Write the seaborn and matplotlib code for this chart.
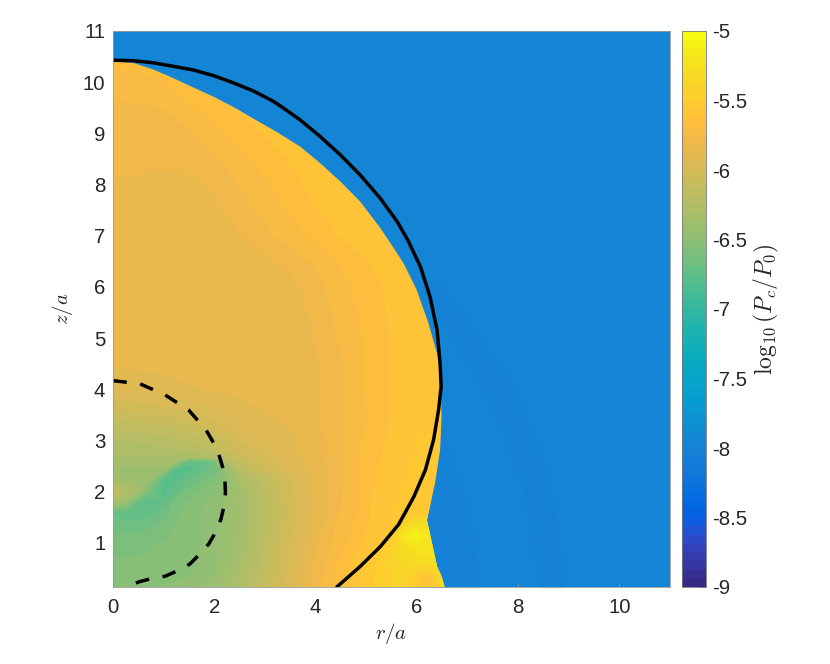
import numpy as np
import matplotlib
matplotlib.use("Agg")
import matplotlib.pyplot as plt
import seaborn as sns
from matplotlib.cm import ScalarMappable
from matplotlib.colors import ListedColormap, Normalize
from matplotlib.patches import Polygon

# Style
sns.set_theme(style="white")
plt.rcParams['font.family'] = ['Liberation Sans', 'DejaVu Sans']
plt.rcParams['mathtext.fontset'] = 'cm'

# matlab parula, 64 rows
parula_rows = [
    [0.2081,0.1663,0.5292],[0.2116,0.1898,0.5777],[0.2123,0.2138,0.6270],[0.2081,0.2386,0.6771],
    [0.1959,0.2645,0.7279],[0.1707,0.2919,0.7792],[0.1253,0.3242,0.8303],[0.0591,0.3598,0.8683],
    [0.0117,0.3875,0.8820],[0.0060,0.4086,0.8828],[0.0165,0.4266,0.8786],[0.0329,0.4430,0.8720],
    [0.0498,0.4586,0.8641],[0.0629,0.4737,0.8554],[0.0723,0.4887,0.8467],[0.0779,0.5040,0.8384],
    [0.0793,0.5200,0.8312],[0.0749,0.5375,0.8263],[0.0641,0.5570,0.8240],[0.0488,0.5772,0.8228],
    [0.0343,0.5966,0.8199],[0.0265,0.6137,0.8135],[0.0239,0.6287,0.8038],[0.0231,0.6418,0.7913],
    [0.0228,0.6535,0.7768],[0.0267,0.6642,0.7607],[0.0384,0.6743,0.7436],[0.0590,0.6838,0.7254],
    [0.0843,0.6928,0.7062],[0.1133,0.7015,0.6859],[0.1453,0.7098,0.6646],[0.1801,0.7177,0.6424],
    [0.2178,0.7250,0.6193],[0.2586,0.7317,0.5954],[0.3022,0.7376,0.5712],[0.3482,0.7424,0.5473],
    [0.3953,0.7459,0.5244],[0.4420,0.7481,0.5033],[0.4871,0.7491,0.4840],[0.5300,0.7491,0.4661],
    [0.5709,0.7485,0.4494],[0.6099,0.7473,0.4337],[0.6473,0.7456,0.4188],[0.6834,0.7435,0.4044],
    [0.7184,0.7411,0.3905],[0.7525,0.7384,0.3768],[0.7858,0.7356,0.3633],[0.8185,0.7327,0.3498],
    [0.8507,0.7299,0.3360],[0.8824,0.7274,0.3217],[0.9139,0.7258,0.3063],[0.9450,0.7261,0.2886],
    [0.9739,0.7314,0.2666],[0.9938,0.7455,0.2403],[0.9990,0.7653,0.2164],[0.9955,0.7861,0.1967],
    [0.9880,0.8066,0.1794],[0.9789,0.8271,0.1633],[0.9697,0.8481,0.1475],[0.9626,0.8705,0.1309],
    [0.9589,0.8949,0.1132],[0.9598,0.9218,0.0948],[0.9661,0.9514,0.0755],[0.9763,0.9831,0.0538],
]

# log10(Pc/P0), one row per z_rows entry, one column per r_cols entry
r_cols = [0, 0.5, 1, 1.5, 2, 2.5, 3, 3.5, 4, 4.5, 5, 5.5, 6, 6.5, 7]
z_rows = [0.14, 0.5, 1, 1.25, 1.5, 1.75, 2, 2.25, 2.5, 2.75, 3, 3.5, 4, 4.5, 5, 6, 6.5, 7, 7.5, 8, 8.5, 9, 9.5, 10, 10.5, 11]
bubble_values = [
    [-6.50,-6.50,-6.50,-6.48,-6.40,-6.28,-6.12,-5.96,-5.78,-5.66,-5.54,-5.44,-5.50,-5.35,-5.35],
    [-6.55,-6.55,-6.55,-6.52,-6.46,-6.32,-6.15,-5.98,-5.80,-5.67,-5.56,-5.42,-5.40,-5.25,-5.25],
    [-6.58,-6.58,-6.56,-6.54,-6.46,-6.36,-6.18,-6.00,-5.83,-5.70,-5.60,-5.50,-5.22,-5.22,-5.22],
    [-6.66,-6.65,-6.60,-6.54,-6.46,-6.36,-6.20,-6.02,-5.85,-5.72,-5.62,-5.54,-5.10,-5.24,-5.24],
    [-6.70,-6.74,-6.66,-6.54,-6.46,-6.36,-6.20,-6.03,-5.87,-5.74,-5.64,-5.57,-5.50,-5.50,-5.50],
    [-6.40,-6.72,-6.74,-6.56,-6.48,-6.36,-6.20,-6.03,-5.88,-5.76,-5.64,-5.57,-5.55,-5.55,-5.55],
    [-6.12,-6.36,-6.78,-6.60,-6.52,-6.36,-6.20,-6.02,-5.87,-5.76,-5.64,-5.57,-5.55,-5.55,-5.55],
    [-6.34,-6.40,-6.78,-6.70,-6.58,-6.30,-6.15,-6.00,-5.87,-5.76,-5.66,-5.58,-5.55,-5.55,-5.55],
    [-6.38,-6.38,-6.40,-6.76,-6.66,-6.20,-6.05,-5.94,-5.85,-5.76,-5.66,-5.58,-5.55,-5.55,-5.55],
    [-6.33,-6.33,-6.32,-6.30,-6.25,-6.08,-5.98,-5.90,-5.84,-5.76,-5.67,-5.60,-5.56,-5.56,-5.56],
    [-6.25,-6.24,-6.22,-6.18,-6.12,-6.00,-5.93,-5.89,-5.84,-5.76,-5.68,-5.61,-5.56,-5.56,-5.56],
    [-6.10,-6.08,-6.06,-6.02,-5.97,-5.92,-5.88,-5.86,-5.83,-5.76,-5.69,-5.62,-5.57,-5.57,-5.57],
    [-5.93,-5.92,-5.90,-5.88,-5.87,-5.86,-5.85,-5.85,-5.83,-5.76,-5.68,-5.62,-5.59,-5.58,-5.58],
    [-5.86,-5.86,-5.86,-5.86,-5.86,-5.86,-5.86,-5.86,-5.82,-5.76,-5.68,-5.62,-5.59,-5.58,-5.58],
    [-5.85,-5.85,-5.85,-5.85,-5.85,-5.85,-5.85,-5.85,-5.81,-5.74,-5.68,-5.62,-5.58,-5.57,-5.57],
    [-5.85,-5.85,-5.85,-5.85,-5.85,-5.85,-5.85,-5.84,-5.78,-5.71,-5.66,-5.61,-5.58,-5.57,-5.57],
    [-5.85,-5.85,-5.85,-5.85,-5.85,-5.85,-5.83,-5.79,-5.74,-5.68,-5.63,-5.59,-5.57,-5.57,-5.57],
    [-5.85,-5.85,-5.85,-5.85,-5.85,-5.82,-5.77,-5.72,-5.67,-5.62,-5.58,-5.57,-5.57,-5.57,-5.57],
    [-5.83,-5.85,-5.85,-5.85,-5.83,-5.78,-5.73,-5.68,-5.63,-5.59,-5.58,-5.57,-5.57,-5.57,-5.57],
    [-5.82,-5.83,-5.83,-5.83,-5.80,-5.75,-5.70,-5.65,-5.60,-5.58,-5.58,-5.58,-5.58,-5.58,-5.58],
    [-5.79,-5.79,-5.80,-5.79,-5.76,-5.71,-5.66,-5.62,-5.58,-5.58,-5.58,-5.58,-5.58,-5.58,-5.58],
    [-5.78,-5.78,-5.78,-5.76,-5.71,-5.66,-5.62,-5.60,-5.60,-5.60,-5.60,-5.60,-5.60,-5.60,-5.60],
    [-5.76,-5.76,-5.75,-5.70,-5.66,-5.62,-5.62,-5.62,-5.62,-5.62,-5.62,-5.62,-5.62,-5.62,-5.62],
    [-5.72,-5.71,-5.69,-5.65,-5.62,-5.62,-5.62,-5.62,-5.62,-5.62,-5.62,-5.62,-5.62,-5.62,-5.62],
    [-5.66,-5.66,-5.66,-5.66,-5.66,-5.66,-5.66,-5.66,-5.66,-5.66,-5.66,-5.66,-5.66,-5.66,-5.66],
    [-5.65,-5.65,-5.65,-5.65,-5.65,-5.65,-5.65,-5.65,-5.65,-5.65,-5.65,-5.65,-5.65,-5.65,-5.65],
]

# finer read of the green patch
core_r = [0, 0.25, 0.5, 0.75, 1, 1.25, 1.5, 1.75, 2, 2.25, 2.5]
core_z = [1.0, 1.3, 1.6, 1.8, 2.0, 2.25, 2.45, 2.6, 2.68, 2.8, 3.0]
core_values = [
    [-6.58,-6.58,-6.58,-6.58,-6.56,-6.56,-6.54,-6.50,-6.46,-6.42,-6.36],
    [-6.66,-6.66,-6.65,-6.63,-6.60,-6.56,-6.54,-6.50,-6.46,-6.42,-6.36],
    [-6.70,-6.72,-6.74,-6.72,-6.66,-6.58,-6.54,-6.50,-6.46,-6.42,-6.36],
    [-6.30,-6.42,-6.72,-6.78,-6.74,-6.58,-6.56,-6.52,-6.48,-6.43,-6.36],
    [-6.12,-6.25,-6.36,-6.66,-6.78,-6.72,-6.60,-6.55,-6.52,-6.46,-6.36],
    [-6.34,-6.38,-6.40,-6.44,-6.78,-6.78,-6.70,-6.64,-6.58,-6.48,-6.30],
    [-6.38,-6.38,-6.38,-6.38,-6.40,-6.76,-6.78,-6.72,-6.66,-6.42,-6.20],
    [-6.34,-6.34,-6.34,-6.34,-6.34,-6.36,-6.72,-6.72,-6.62,-6.26,-6.13],
    [-6.32,-6.32,-6.32,-6.32,-6.32,-6.32,-6.30,-6.30,-6.25,-6.18,-6.10],
    [-6.30,-6.30,-6.29,-6.28,-6.27,-6.26,-6.24,-6.22,-6.18,-6.12,-6.05],
    [-6.25,-6.25,-6.24,-6.23,-6.22,-6.20,-6.18,-6.15,-6.12,-6.07,-6.00],
]

# finer read of the yellow patch
hot_r = [4.5, 4.75, 5, 5.25, 5.5, 5.75, 6, 6.25, 6.5, 6.75]
hot_z = [0.14, 0.35, 0.65, 0.9, 1.15, 1.4, 1.55, 1.8]
hot_values = [
    [-5.66,-5.60,-5.54,-5.48,-5.44,-5.44,-5.50,-5.58,-5.35,-5.35],
    [-5.66,-5.60,-5.54,-5.48,-5.42,-5.40,-5.50,-5.62,-5.35,-5.35],
    [-5.68,-5.62,-5.56,-5.50,-5.40,-5.32,-5.30,-5.28,-5.25,-5.25],
    [-5.70,-5.65,-5.60,-5.56,-5.45,-5.28,-5.22,-5.22,-5.22,-5.22],
    [-5.72,-5.68,-5.62,-5.58,-5.54,-5.18,-5.10,-5.22,-5.24,-5.24],
    [-5.74,-5.69,-5.64,-5.60,-5.56,-5.46,-5.32,-5.28,-5.28,-5.28],
    [-5.75,-5.70,-5.64,-5.60,-5.57,-5.55,-5.52,-5.50,-5.50,-5.50],
    [-5.76,-5.70,-5.64,-5.59,-5.56,-5.55,-5.55,-5.55,-5.55,-5.55],
]

# edge of the bright region
edge_r = [0, 0.39, 0.79, 1.19, 1.58, 1.98, 2.37, 2.77, 3.16, 3.36, 3.70, 4.09, 4.49, 4.88, 5.28, 5.57, 5.74, 6.0, 6.23, 6.40, 6.46, 6.49, 6.46, 6.36, 6.20, 6.30, 6.40, 6.49, 6.55, 0]
edge_z = [10.40, 10.38, 10.25, 10.08, 9.90, 9.72, 9.52, 9.29, 9.07, 8.95, 8.74, 8.42, 8.06, 7.67, 7.15, 6.72, 6.46, 5.94, 5.29, 4.70, 4.32, 3.50, 2.82, 2.17, 1.45, 1.0, 0.54, 0.35, 0.14, 0.14]

# solid and dashed curves
solid_r = [0, 0.39, 0.79, 1.19, 1.58, 1.98, 2.37, 2.77, 3.16, 3.30, 3.70, 4.09, 4.49, 4.88, 5.28, 5.61, 5.82, 6.07, 6.26, 6.40, 6.46, 6.48, 6.43, 6.33, 6.17, 5.94, 5.64, 5.28, 4.88, 4.42]
solid_z = [10.43, 10.42, 10.38, 10.31, 10.24, 10.13, 9.99, 9.83, 9.63, 9.54, 9.26, 8.94, 8.58, 8.19, 7.73, 7.28, 6.92, 6.40, 5.81, 5.16, 4.51, 4.05, 3.60, 3.01, 2.43, 1.90, 1.36, 0.93, 0.54, 0.14]
dashed_r = [0, 0.53, 1.03, 1.49, 1.83, 1.96, 2.08, 2.16, 2.21, 2.22, 2.19, 2.13, 2.02, 1.89, 1.71, 1.52, 1.28, 1.03, 0.78, 0.51, 0.26]
dashed_z = [4.17, 4.11, 3.89, 3.60, 3.22, 3.00, 2.76, 2.50, 2.24, 1.98, 1.71, 1.46, 1.20, 0.98, 0.78, 0.59, 0.46, 0.35, 0.31, 0.24, 0.14]

# faint darker arcs in the blue part
ambient_level = -7.97
arc_level = -8.03
arc1_z = [0.14, 0.8, 1.6, 2.4, 3.3]
arc1_inner = [6.0, 6.0, 6.0, 6.0, 6.0]
arc1_outer = [7.25, 7.2, 7.05, 6.8, 6.46]
arc2_z = [0.14, 1.59, 2.76, 4.05, 5.36, 6.14]
arc2_inner = [8.42, 8.18, 7.85, 7.25, 6.46, 6.1]
arc2_outer = [8.9, 8.78, 8.45, 7.95, 7.0, 6.46]

x_ticks = [0, 2, 4, 6, 8, 10]
y_ticks = [1, 2, 3, 4, 5, 6, 7, 8, 9, 10, 11]
cbar_ticks = [-9, -8.5, -8, -7.5, -7, -6.5, -6, -5.5, -5]
cbar_labels = ['-9', '-8.5', '-8', '-7.5', '-7', '-6.5', '-6', '-5.5', '-5']

parula = ListedColormap(parula_rows)
norm = Normalize(-9, -5)
levels = np.linspace(-9, -5, 65)
W, H = 830, 664
spine_col = '#9a9a9a'
text_col = '#262626'

fig = plt.figure(figsize=(W / 100, H / 100), dpi=100, facecolor='white')
ax = fig.add_axes([113 / W, 1 - 587 / H, 557 / W, 556 / H])
ax.set_facecolor(parula(norm(ambient_level)))

ax.fill_betweenx(arc1_z, arc1_inner, arc1_outer, color=parula(norm(arc_level)), lw=0)
ax.fill_betweenx(arc2_z, arc2_inner, arc2_outer, color=parula(norm(arc_level)), lw=0)

# bright region, clipped to the read edge
clip = Polygon(np.column_stack([edge_r, edge_z]), closed=True, transform=ax.transData, fc='none', ec='none')
ax.add_patch(clip)
for rr, zz, vals in [(r_cols, z_rows, bubble_values), (core_r, core_z, core_values), (hot_r, hot_z, hot_values)]:
    layer = ax.contourf(rr, zz, np.array(vals), levels=levels, cmap=parula, norm=norm)
    layer.set_clip_path(clip)

sns.lineplot(x=solid_r, y=solid_z, sort=False, estimator=None, color='black', linewidth=2.5, ax=ax)
sns.lineplot(x=dashed_r, y=dashed_z, sort=False, estimator=None, color='black', linewidth=2.5,
             linestyle=(0, (4, 3.9)), ax=ax)

ax.set_xlim(0, 11)
ax.set_ylim(0.14, 11)
ax.set_xticks(x_ticks)
ax.set_yticks(y_ticks)
ax.tick_params(direction='in', length=3, width=0.5, color=spine_col, labelcolor=text_col, labelsize=14.7,
               bottom=True, left=True)
ax.tick_params(axis='x', pad=8)
ax.tick_params(axis='y', pad=5.5)
for s in ax.spines.values():
    s.set_color(spine_col)
    s.set_linewidth(0.6)
ax.set_xlabel('$r/a$', fontsize=15, color=text_col, labelpad=3)
ax.set_ylabel('$z/a$', fontsize=15, color=text_col, labelpad=6)

cax = fig.add_axes([682 / W, 1 - 587 / H, 23.5 / W, 556 / H])
cb = fig.colorbar(ScalarMappable(norm=norm, cmap=parula), cax=cax, ticks=cbar_ticks)
cb.ax.set_yticklabels(cbar_labels)
cb.ax.tick_params(direction='in', length=5, width=0.5, color='#555555', labelcolor=text_col, labelsize=14.7, pad=5)
cb.outline.set_edgecolor('#777777')
cb.outline.set_linewidth(0.6)
cb.set_label(r'$\log_{10}(P_c/P_0)$', fontsize=17, color=text_col, labelpad=3)

fig.savefig('out.png', dpi=100)
plt.close(fig)
